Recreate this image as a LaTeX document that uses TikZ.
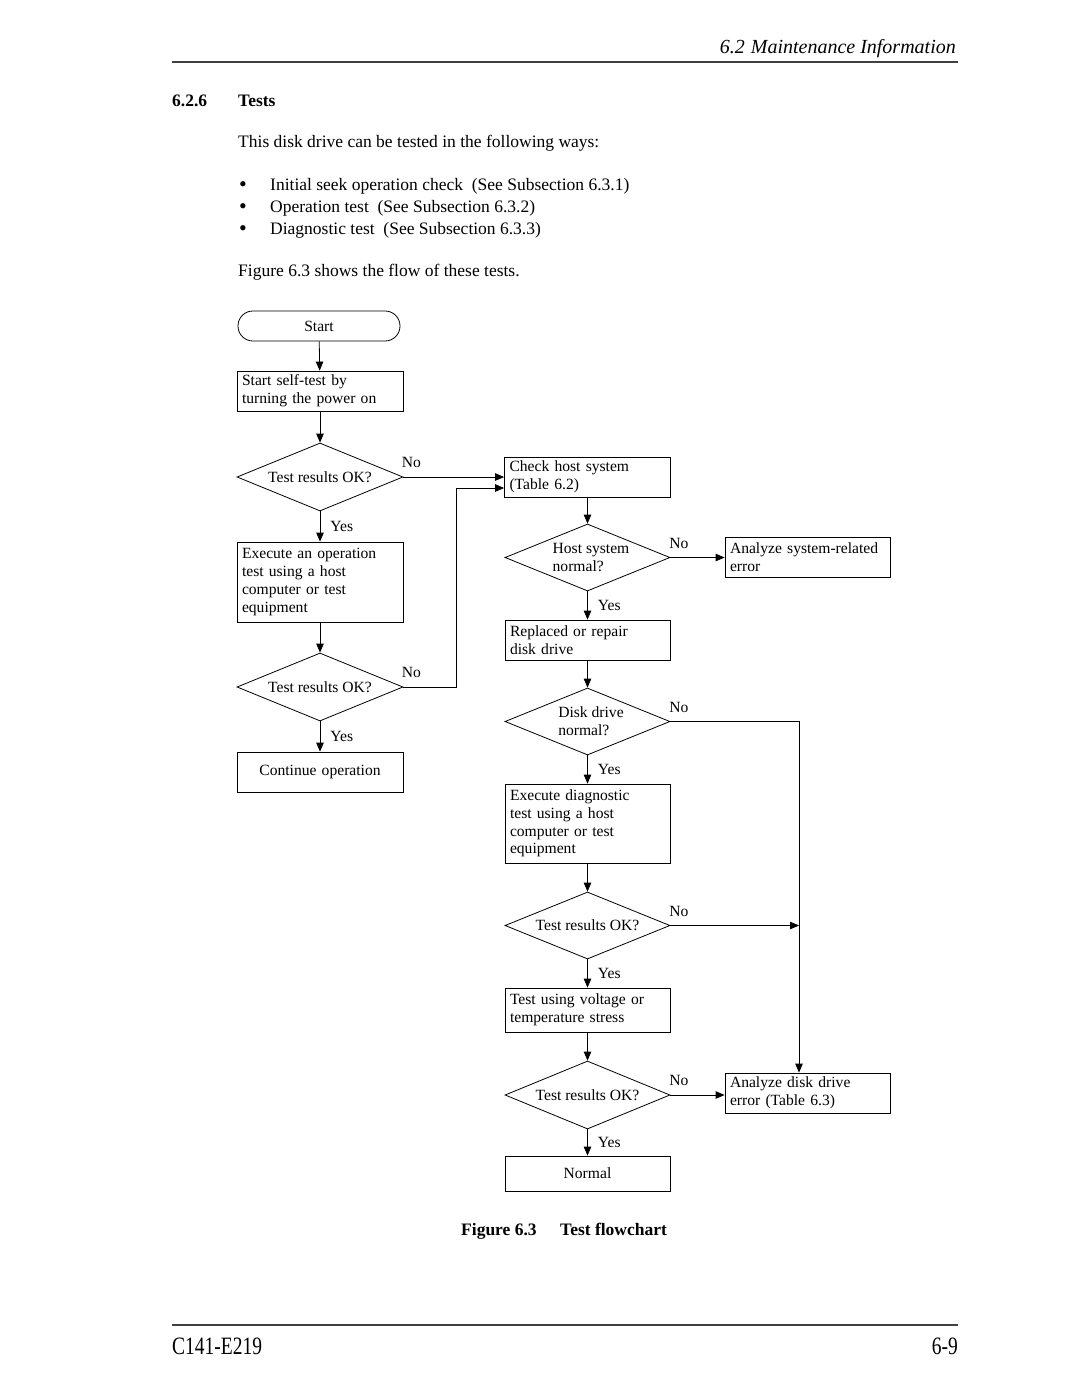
\documentclass[tikz,border=0pt]{standalone}
\usepackage{fontspec}
\setmainfont{Liberation Serif}
\usepackage{graphicx}
\usetikzlibrary{shapes.geometric,arrows.meta,calc}
\newcommand\flowfont{\fontsize{15.6}{17.8}\selectfont}
\newcommand\bodyfont{\fontsize{17.5}{22}\selectfont}
\newcommand\indl{\hspace*{7pt}}
\begin{document}
\begin{tikzpicture}[x=1pt,y=-1pt,
  procbox/.style={draw, line width=0.8pt, rectangle, minimum width=166pt, minimum height=40pt,
     text width=156pt, inner xsep=5pt, inner ysep=0pt, align=left, font=\flowfont},
  decision/.style={draw, line width=0.8pt, diamond, aspect=2.45, minimum width=166pt,
     minimum height=68pt, inner sep=0pt, align=center, font=\flowfont},
  terminal/.style={draw, line width=0.8pt, rounded corners=14.9pt, minimum width=162pt,
     minimum height=30pt, inner sep=0pt, font=\flowfont},
  arr/.style={line width=0.8pt, -{Triangle[length=9pt,width=7.5pt]}},
  ylab/.style={font=\flowfont, anchor=west, inner sep=0pt, xshift=10pt},
  nlab/.style={font=\flowfont, anchor=base west, inner sep=0pt, xshift=-1.5pt, yshift=9.5pt},
  body/.style={font=\bodyfont, anchor=base west, inner sep=0pt},
  bullet/.style={font=\fontsize{22}{22}\selectfont, anchor=base, inner sep=0pt, text height=11pt, text depth=0pt}]
\useasboundingbox (0,0) rectangle (1080,1397);
% header
\node[anchor=base east, inner sep=0pt, font=\fontsize{20}{24}\selectfont\itshape] (hdr) at (956,54) {6.2\hspace{6pt}Maintenance Information};
\draw[line width=2pt, black!75] (172,62) -- (958,62);
% section heading
\node[body, font=\bodyfont\bfseries] (secno) at (172,106) {6.2.6};
\node[body, font=\bodyfont\bfseries] (sectitle) at (238,106) {Tests};
\node[body] (intro) at (238,147) {This disk drive can be tested in the following ways:};
\node[bullet] (bu1) at (243,191.5) {•};
\node[body] (it1) at (270,190) {Initial seek operation check\ \ (See Subsection 6.3.1)};
\node[bullet] (bu2) at (243,213.5) {•};
\node[body] (it2) at (270,212) {Operation test\ \ (See Subsection 6.3.2)};
\node[bullet] (bu3) at (243,235.5) {•};
\node[body] (it3) at (270,234) {Diagnostic test\ \ (See Subsection 6.3.3)};
\node[body] (figref) at (238,276) {Figure 6.3 shows the flow of these tests.};
% left column
\node[terminal] (start) at (319,326) {Start};
\node[procbox] (b1) at (320,391) {Start self-test by\\turning the power on};
\node[decision] (d1) at (320,477) {Test results OK?};
\node[procbox, minimum height=80pt] (b2) at (320,582) {Execute an operation\\test using a host\\computer or test\\equipment};
\node[decision] (d2) at (320,687) {Test results OK?};
\node[procbox, align=center] (b3) at (320,772) {Continue operation};
% right column
\node[procbox] (chk) at (587.5,477) {Check host system\\(Table 6.2)};
\node[decision, minimum width=165pt, minimum height=67pt, align=left] (hs) at (587.5,557.5) {\indl Host system\\\indl normal?};
\node[procbox, minimum width=165pt, text width=155pt] (asr) at (807.5,557) {Analyze system-related\\error};
\node[procbox, minimum width=165pt, text width=155pt] (rep) at (587.5,640) {Replaced or repair\\disk drive};
\node[decision, minimum width=165pt, minimum height=67pt, align=left] (dd) at (587.5,721.5) {\indl Disk drive\\\indl normal?};
\node[procbox, minimum width=165pt, text width=155pt, minimum height=79pt] (exd) at (587.5,823.5) {Execute diagnostic\\test using a host\\computer or test\\equipment};
\node[decision, minimum width=165pt, minimum height=67pt] (t3) at (587.5,925.5) {Test results OK?};
\node[procbox, minimum width=165pt, text width=155pt, minimum height=44pt] (tv) at (587.5,1010) {Test using voltage or\\temperature stress};
\node[decision, minimum width=165pt] (t4) at (587.5,1095) {Test results OK?};
\node[procbox, minimum width=165pt, text width=155pt] (ade) at (807.5,1093) {Analyze disk drive\\error (Table 6.3)};
\node[procbox, minimum width=165pt, text width=155pt, minimum height=35pt, align=center] (nor) at (587.5,1173.5) {Normal};
% helper coordinates
\coordinate (j1) at (456,687);
\coordinate (chkin2) at ($(chk.west)+(0,11)$);
\coordinate (rx) at (799,0);
% connectors left
\draw[arr] (start) -- (b1);
\draw[arr] (b1) -- (d1);
\draw[arr] (d1.east) -- node[nlab, at start, xshift=-0.5pt]{No} (d1.east -| chk.west);
\draw[arr] (d1.south) -- node[ylab]{Yes} (b2.north);
\draw[arr] (b2) -- (d2);
\draw[arr] (d2.east) -- node[nlab, at start, xshift=-0.5pt]{No} (j1) |- (chkin2);
\draw[arr] (d2.south) -- node[ylab]{Yes} (b3.north);
% connectors right
\draw[arr] (chk) -- (hs);
\draw[arr] (hs.east) -- node[nlab, at start]{No} (hs.east -| asr.west);
\draw[arr] (hs.south) -- node[ylab]{Yes} (rep.north);
\draw[arr] (rep) -- (dd);
\draw[arr] (dd.east) -- node[nlab, at start]{No} (dd.east -| rx) -- (rx |- ade.north);
\draw[arr] (dd.south) -- node[ylab]{Yes} (exd.north);
\draw[arr] (exd) -- (t3);
\draw[arr] (t3.east) -- node[nlab, at start]{No} (t3.east -| rx);
\draw[arr] (t3.south) -- node[ylab]{Yes} (tv.north);
\draw[arr] (tv) -- (t4);
\draw[arr] (t4.east) -- node[nlab, at start]{No} (t4.east -| ade.west);
\draw[arr] (t4.south) -- node[ylab]{Yes} (nor.north);
% caption
\node[body, font=\bodyfont\bfseries] (capno) at (461,1235) {Figure 6.3};
\node[body, font=\bodyfont\bfseries] (captxt) at (560,1235) {Test flowchart};
% footer
\draw[line width=2pt, black!75] (172,1325) -- (958,1325);
\node[anchor=base west, inner sep=0pt] (code) at (172,1354) {\scalebox{0.78}[1]{\fontsize{25}{25}\selectfont C141-E219}};
\node[anchor=base east, inner sep=0pt] (pg) at (958,1354) {\scalebox{0.78}[1]{\fontsize{25}{25}\selectfont 6-9}};
\end{tikzpicture}
\end{document}
